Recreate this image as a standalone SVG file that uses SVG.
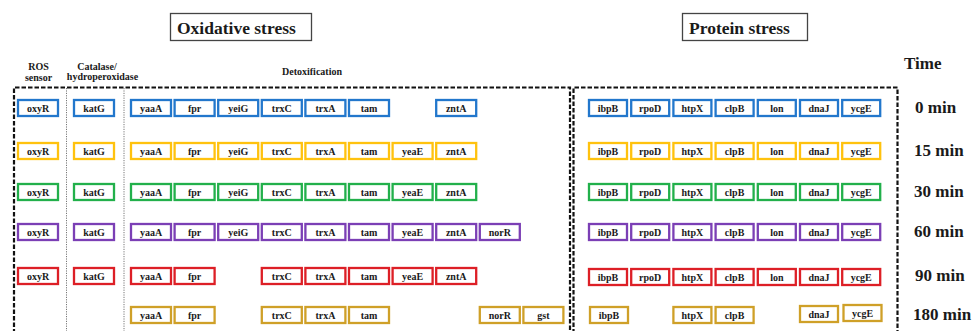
<svg xmlns="http://www.w3.org/2000/svg" width="976" height="331" viewBox="0 0 976 331">
  <style>
    text { font-family: "Liberation Serif", "Times New Roman", serif; font-weight: bold; fill: #1a1a1a; }
    .title { font-size: 17.5px; }
    .head { font-size: 10px; text-anchor: middle; }
    .time { font-size: 17px; }
    .n rect { fill: #fff; stroke-width: 2.3; }
    .n text { font-size: 10px; text-anchor: middle; }
    .c0 rect { stroke: #2277cc; }
    .c1 rect { stroke: #ffc20e; }
    .c2 rect { stroke: #22b04b; }
    .c3 rect { stroke: #7b3fb5; }
    .c4 rect { stroke: #dd1f26; }
    .c5 rect { stroke: #cfa028; }
    .frame { fill: none; stroke: #111; stroke-width: 2.2; stroke-dasharray: 4.5 2; }
    .sep { fill: none; stroke: #777; stroke-width: 1; stroke-dasharray: 1.2 1.2; }
  </style>

  <rect width="976" height="331" fill="#fff"/>

  <!-- section titles -->
  <g id="title-oxidative">
    <rect x="170.5" y="13.5" width="141" height="27" fill="#fff" stroke="#444" stroke-width="1.3"/>
    <text class="title" x="177" y="34">Oxidative stress</text>
  </g>
  <g id="title-protein">
    <rect x="682.5" y="13.5" width="125" height="27" fill="#fff" stroke="#444" stroke-width="1.3"/>
    <text class="title" x="689" y="34">Protein stress</text>
  </g>

  <!-- column headings -->
  <text class="head" x="38.5" y="70">ROS</text>
  <text class="head" x="38.5" y="81">sensor</text>
  <text class="head" x="97" y="70">Catalase/</text>
  <text class="head" x="102.5" y="80">hydroperoxidase</text>
  <text class="head" x="312" y="75">Detoxification</text>
  <text class="time" x="904" y="69">Time</text>

  <!-- dashed frames and dotted separators -->
  <g id="frames">
    <path class="frame" d="M14,340 V87.5 H570 V340"/>
    <path class="frame" d="M573.5,340 V87.5 H897.5 V340"/>
    <path class="sep" d="M66.5,88 V340"/>
    <path class="sep" d="M124,88 V340"/>
  </g>

  <!-- time labels -->
  <g id="time-labels">
    <text class="time" x="915" y="113">0 min</text>
    <text class="time" x="914" y="156">15 min</text>
    <text class="time" x="914" y="197">30 min</text>
    <text class="time" x="914" y="237">60 min</text>
    <text class="time" x="915" y="281">90 min</text>
    <text class="time" x="913" y="320">180 min</text>
  </g>

  <!-- 0 min -->
  <g class="n c0">
    <g id="t0-oxyR" transform="translate(18,100)"><rect width="40" height="16"/><text x="20" y="11.5">oxyR</text></g>
    <g id="t0-katG" transform="translate(74,100)"><rect width="40" height="16"/><text x="20" y="11.5">katG</text></g>
    <g id="t0-yaaA" transform="translate(131,100)"><rect width="40" height="16"/><text x="20" y="11.5">yaaA</text></g>
    <g id="t0-fpr" transform="translate(174.6,100)"><rect width="40" height="16"/><text x="20" y="11.5">fpr</text></g>
    <g id="t0-yeiG" transform="translate(218.2,100)"><rect width="40" height="16"/><text x="20" y="11.5">yeiG</text></g>
    <g id="t0-trxC" transform="translate(261.8,100)"><rect width="40" height="16"/><text x="20" y="11.5">trxC</text></g>
    <g id="t0-trxA" transform="translate(305.4,100)"><rect width="40" height="16"/><text x="20" y="11.5">trxA</text></g>
    <g id="t0-tam" transform="translate(349,100)"><rect width="40" height="16"/><text x="20" y="11.5">tam</text></g>
    <g id="t0-zntA" transform="translate(436.2,100)"><rect width="40" height="16"/><text x="20" y="11.5">zntA</text></g>
    <g id="t0-ibpB" transform="translate(589,100)"><rect width="38" height="16"/><text x="19" y="11.5">ibpB</text></g>
    <g id="t0-rpoD" transform="translate(631.2,100)"><rect width="38" height="16"/><text x="19" y="11.5">rpoD</text></g>
    <g id="t0-htpX" transform="translate(673.4,100)"><rect width="38" height="16"/><text x="19" y="11.5">htpX</text></g>
    <g id="t0-clpB" transform="translate(715.6,100)"><rect width="38" height="16"/><text x="19" y="11.5">clpB</text></g>
    <g id="t0-lon" transform="translate(757.8,100)"><rect width="38" height="16"/><text x="19" y="11.5">lon</text></g>
    <g id="t0-dnaJ" transform="translate(800,100)"><rect width="38" height="16"/><text x="19" y="11.5">dnaJ</text></g>
    <g id="t0-ycgE" transform="translate(842.2,100)"><rect width="38" height="16"/><text x="19" y="11.5">ycgE</text></g>
  </g>

  <!-- 15 min -->
  <g class="n c1">
    <g id="t15-oxyR" transform="translate(18,143)"><rect width="40" height="16"/><text x="20" y="11.5">oxyR</text></g>
    <g id="t15-katG" transform="translate(74,143)"><rect width="40" height="16"/><text x="20" y="11.5">katG</text></g>
    <g id="t15-yaaA" transform="translate(131,143)"><rect width="40" height="16"/><text x="20" y="11.5">yaaA</text></g>
    <g id="t15-fpr" transform="translate(174.6,143)"><rect width="40" height="16"/><text x="20" y="11.5">fpr</text></g>
    <g id="t15-yeiG" transform="translate(218.2,143)"><rect width="40" height="16"/><text x="20" y="11.5">yeiG</text></g>
    <g id="t15-trxC" transform="translate(261.8,143)"><rect width="40" height="16"/><text x="20" y="11.5">trxC</text></g>
    <g id="t15-trxA" transform="translate(305.4,143)"><rect width="40" height="16"/><text x="20" y="11.5">trxA</text></g>
    <g id="t15-tam" transform="translate(349,143)"><rect width="40" height="16"/><text x="20" y="11.5">tam</text></g>
    <g id="t15-yeaE" transform="translate(392.6,143)"><rect width="40" height="16"/><text x="20" y="11.5">yeaE</text></g>
    <g id="t15-zntA" transform="translate(436.2,143)"><rect width="40" height="16"/><text x="20" y="11.5">zntA</text></g>
    <g id="t15-ibpB" transform="translate(589,143)"><rect width="38" height="16"/><text x="19" y="11.5">ibpB</text></g>
    <g id="t15-rpoD" transform="translate(631.2,143)"><rect width="38" height="16"/><text x="19" y="11.5">rpoD</text></g>
    <g id="t15-htpX" transform="translate(673.4,143)"><rect width="38" height="16"/><text x="19" y="11.5">htpX</text></g>
    <g id="t15-clpB" transform="translate(715.6,143)"><rect width="38" height="16"/><text x="19" y="11.5">clpB</text></g>
    <g id="t15-lon" transform="translate(757.8,143)"><rect width="38" height="16"/><text x="19" y="11.5">lon</text></g>
    <g id="t15-dnaJ" transform="translate(800,143)"><rect width="38" height="16"/><text x="19" y="11.5">dnaJ</text></g>
    <g id="t15-ycgE" transform="translate(842.2,143)"><rect width="38" height="16"/><text x="19" y="11.5">ycgE</text></g>
  </g>

  <!-- 30 min -->
  <g class="n c2">
    <g id="t30-oxyR" transform="translate(18,184)"><rect width="40" height="16"/><text x="20" y="11.5">oxyR</text></g>
    <g id="t30-katG" transform="translate(74,184)"><rect width="40" height="16"/><text x="20" y="11.5">katG</text></g>
    <g id="t30-yaaA" transform="translate(131,184)"><rect width="40" height="16"/><text x="20" y="11.5">yaaA</text></g>
    <g id="t30-fpr" transform="translate(174.6,184)"><rect width="40" height="16"/><text x="20" y="11.5">fpr</text></g>
    <g id="t30-yeiG" transform="translate(218.2,184)"><rect width="40" height="16"/><text x="20" y="11.5">yeiG</text></g>
    <g id="t30-trxC" transform="translate(261.8,184)"><rect width="40" height="16"/><text x="20" y="11.5">trxC</text></g>
    <g id="t30-trxA" transform="translate(305.4,184)"><rect width="40" height="16"/><text x="20" y="11.5">trxA</text></g>
    <g id="t30-tam" transform="translate(349,184)"><rect width="40" height="16"/><text x="20" y="11.5">tam</text></g>
    <g id="t30-yeaE" transform="translate(392.6,184)"><rect width="40" height="16"/><text x="20" y="11.5">yeaE</text></g>
    <g id="t30-zntA" transform="translate(436.2,184)"><rect width="40" height="16"/><text x="20" y="11.5">zntA</text></g>
    <g id="t30-ibpB" transform="translate(589,184)"><rect width="38" height="16"/><text x="19" y="11.5">ibpB</text></g>
    <g id="t30-rpoD" transform="translate(631.2,184)"><rect width="38" height="16"/><text x="19" y="11.5">rpoD</text></g>
    <g id="t30-htpX" transform="translate(673.4,184)"><rect width="38" height="16"/><text x="19" y="11.5">htpX</text></g>
    <g id="t30-clpB" transform="translate(715.6,184)"><rect width="38" height="16"/><text x="19" y="11.5">clpB</text></g>
    <g id="t30-lon" transform="translate(757.8,184)"><rect width="38" height="16"/><text x="19" y="11.5">lon</text></g>
    <g id="t30-dnaJ" transform="translate(800,184)"><rect width="38" height="16"/><text x="19" y="11.5">dnaJ</text></g>
    <g id="t30-ycgE" transform="translate(842.2,184)"><rect width="38" height="16"/><text x="19" y="11.5">ycgE</text></g>
  </g>

  <!-- 60 min -->
  <g class="n c3">
    <g id="t60-oxyR" transform="translate(18,224)"><rect width="40" height="16"/><text x="20" y="11.5">oxyR</text></g>
    <g id="t60-katG" transform="translate(74,224)"><rect width="40" height="16"/><text x="20" y="11.5">katG</text></g>
    <g id="t60-yaaA" transform="translate(131,224)"><rect width="40" height="16"/><text x="20" y="11.5">yaaA</text></g>
    <g id="t60-fpr" transform="translate(174.6,224)"><rect width="40" height="16"/><text x="20" y="11.5">fpr</text></g>
    <g id="t60-yeiG" transform="translate(218.2,224)"><rect width="40" height="16"/><text x="20" y="11.5">yeiG</text></g>
    <g id="t60-trxC" transform="translate(261.8,224)"><rect width="40" height="16"/><text x="20" y="11.5">trxC</text></g>
    <g id="t60-trxA" transform="translate(305.4,224)"><rect width="40" height="16"/><text x="20" y="11.5">trxA</text></g>
    <g id="t60-tam" transform="translate(349,224)"><rect width="40" height="16"/><text x="20" y="11.5">tam</text></g>
    <g id="t60-yeaE" transform="translate(392.6,224)"><rect width="40" height="16"/><text x="20" y="11.5">yeaE</text></g>
    <g id="t60-zntA" transform="translate(436.2,224)"><rect width="40" height="16"/><text x="20" y="11.5">zntA</text></g>
    <g id="t60-norR" transform="translate(479.8,224)"><rect width="40" height="16"/><text x="20" y="11.5">norR</text></g>
    <g id="t60-ibpB" transform="translate(589,224)"><rect width="38" height="16"/><text x="19" y="11.5">ibpB</text></g>
    <g id="t60-rpoD" transform="translate(631.2,224)"><rect width="38" height="16"/><text x="19" y="11.5">rpoD</text></g>
    <g id="t60-htpX" transform="translate(673.4,224)"><rect width="38" height="16"/><text x="19" y="11.5">htpX</text></g>
    <g id="t60-clpB" transform="translate(715.6,224)"><rect width="38" height="16"/><text x="19" y="11.5">clpB</text></g>
    <g id="t60-lon" transform="translate(757.8,224)"><rect width="38" height="16"/><text x="19" y="11.5">lon</text></g>
    <g id="t60-dnaJ" transform="translate(800,224)"><rect width="38" height="16"/><text x="19" y="11.5">dnaJ</text></g>
    <g id="t60-ycgE" transform="translate(842.2,224)"><rect width="38" height="16"/><text x="19" y="11.5">ycgE</text></g>
  </g>

  <!-- 90 min -->
  <g class="n c4">
    <g id="t90-oxyR" transform="translate(18,268)"><rect width="40" height="16"/><text x="20" y="11.5">oxyR</text></g>
    <g id="t90-katG" transform="translate(74,268)"><rect width="40" height="16"/><text x="20" y="11.5">katG</text></g>
    <g id="t90-yaaA" transform="translate(131,268)"><rect width="40" height="16"/><text x="20" y="11.5">yaaA</text></g>
    <g id="t90-fpr" transform="translate(174.6,268)"><rect width="40" height="16"/><text x="20" y="11.5">fpr</text></g>
    <g id="t90-trxC" transform="translate(261.8,268)"><rect width="40" height="16"/><text x="20" y="11.5">trxC</text></g>
    <g id="t90-trxA" transform="translate(305.4,268)"><rect width="40" height="16"/><text x="20" y="11.5">trxA</text></g>
    <g id="t90-tam" transform="translate(349,268)"><rect width="40" height="16"/><text x="20" y="11.5">tam</text></g>
    <g id="t90-yeaE" transform="translate(392.6,268)"><rect width="40" height="16"/><text x="20" y="11.5">yeaE</text></g>
    <g id="t90-zntA" transform="translate(436.2,268)"><rect width="40" height="16"/><text x="20" y="11.5">zntA</text></g>
    <g id="t90-ibpB" transform="translate(589,269)"><rect width="38" height="16"/><text x="19" y="11.5">ibpB</text></g>
    <g id="t90-rpoD" transform="translate(631.2,269)"><rect width="38" height="16"/><text x="19" y="11.5">rpoD</text></g>
    <g id="t90-htpX" transform="translate(673.4,269)"><rect width="38" height="16"/><text x="19" y="11.5">htpX</text></g>
    <g id="t90-clpB" transform="translate(715.6,269)"><rect width="38" height="16"/><text x="19" y="11.5">clpB</text></g>
    <g id="t90-lon" transform="translate(757.8,269)"><rect width="38" height="16"/><text x="19" y="11.5">lon</text></g>
    <g id="t90-dnaJ" transform="translate(800,269)"><rect width="38" height="16"/><text x="19" y="11.5">dnaJ</text></g>
    <g id="t90-ycgE" transform="translate(842.2,269)"><rect width="38" height="16"/><text x="19" y="11.5">ycgE</text></g>
  </g>

  <!-- 180 min -->
  <g class="n c5">
    <g id="t180-yaaA" transform="translate(131,307)"><rect width="40" height="16"/><text x="20" y="11.5">yaaA</text></g>
    <g id="t180-fpr" transform="translate(174.6,307)"><rect width="40" height="16"/><text x="20" y="11.5">fpr</text></g>
    <g id="t180-trxC" transform="translate(261.8,307)"><rect width="40" height="16"/><text x="20" y="11.5">trxC</text></g>
    <g id="t180-trxA" transform="translate(305.4,307)"><rect width="40" height="16"/><text x="20" y="11.5">trxA</text></g>
    <g id="t180-tam" transform="translate(349,307)"><rect width="40" height="16"/><text x="20" y="11.5">tam</text></g>
    <g id="t180-norR" transform="translate(479.8,307)"><rect width="40" height="16"/><text x="20" y="11.5">norR</text></g>
    <g id="t180-gst" transform="translate(523.4,307)"><rect width="40" height="16"/><text x="20" y="11.5">gst</text></g>
    <g id="t180-ibpB" transform="translate(590,307)"><rect width="38" height="16"/><text x="19" y="11.5">ibpB</text></g>
    <g id="t180-htpX" transform="translate(673.4,307)"><rect width="38" height="16"/><text x="19" y="11.5">htpX</text></g>
    <g id="t180-clpB" transform="translate(715.6,307)"><rect width="38" height="16"/><text x="19" y="11.5">clpB</text></g>
    <g id="t180-dnaJ" transform="translate(800,306)"><rect width="38" height="16"/><text x="19" y="11.5">dnaJ</text></g>
    <g id="t180-ycgE" transform="translate(843.5,305)"><rect width="38" height="16"/><text x="19" y="11.5">ycgE</text></g>
  </g>
</svg>
